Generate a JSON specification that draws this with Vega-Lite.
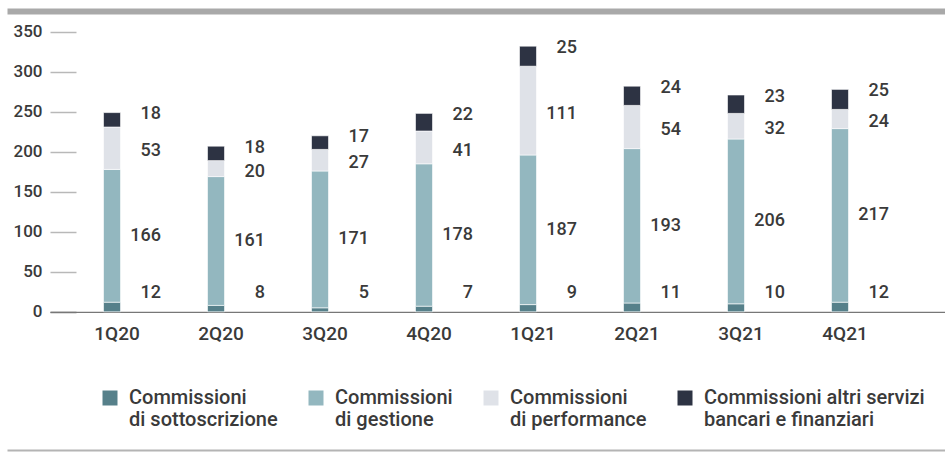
{
  "$schema": "https://vega.github.io/schema/vega-lite/v6.json",
  "autosize": "none",
  "width": 895,
  "height": 439.2,
  "padding": {"left": 50, "top": 11, "right": 0, "bottom": 2.8},
  "background": "white",
  "config": {
    "view": {"stroke": null},
    "font": "Roboto"
  },
  "data": {
    "values": [
      {"q": "1Q20", "cat": "Commissioni di sottoscrizione", "value": 12},
      {"q": "1Q20", "cat": "Commissioni di gestione", "value": 166},
      {"q": "1Q20", "cat": "Commissioni di performance", "value": 53},
      {"q": "1Q20", "cat": "Commissioni altri servizi bancari e finanziari", "value": 18},
      {"q": "2Q20", "cat": "Commissioni di sottoscrizione", "value": 8},
      {"q": "2Q20", "cat": "Commissioni di gestione", "value": 161},
      {"q": "2Q20", "cat": "Commissioni di performance", "value": 20},
      {"q": "2Q20", "cat": "Commissioni altri servizi bancari e finanziari", "value": 18},
      {"q": "3Q20", "cat": "Commissioni di sottoscrizione", "value": 5},
      {"q": "3Q20", "cat": "Commissioni di gestione", "value": 171},
      {"q": "3Q20", "cat": "Commissioni di performance", "value": 27},
      {"q": "3Q20", "cat": "Commissioni altri servizi bancari e finanziari", "value": 17},
      {"q": "4Q20", "cat": "Commissioni di sottoscrizione", "value": 7},
      {"q": "4Q20", "cat": "Commissioni di gestione", "value": 178},
      {"q": "4Q20", "cat": "Commissioni di performance", "value": 41},
      {"q": "4Q20", "cat": "Commissioni altri servizi bancari e finanziari", "value": 22},
      {"q": "1Q21", "cat": "Commissioni di sottoscrizione", "value": 9},
      {"q": "1Q21", "cat": "Commissioni di gestione", "value": 187},
      {"q": "1Q21", "cat": "Commissioni di performance", "value": 111},
      {"q": "1Q21", "cat": "Commissioni altri servizi bancari e finanziari", "value": 25},
      {"q": "2Q21", "cat": "Commissioni di sottoscrizione", "value": 11},
      {"q": "2Q21", "cat": "Commissioni di gestione", "value": 193},
      {"q": "2Q21", "cat": "Commissioni di performance", "value": 54},
      {"q": "2Q21", "cat": "Commissioni altri servizi bancari e finanziari", "value": 24},
      {"q": "3Q21", "cat": "Commissioni di sottoscrizione", "value": 10},
      {"q": "3Q21", "cat": "Commissioni di gestione", "value": 206},
      {"q": "3Q21", "cat": "Commissioni di performance", "value": 32},
      {"q": "3Q21", "cat": "Commissioni altri servizi bancari e finanziari", "value": 23},
      {"q": "4Q21", "cat": "Commissioni di sottoscrizione", "value": 12},
      {"q": "4Q21", "cat": "Commissioni di gestione", "value": 217},
      {"q": "4Q21", "cat": "Commissioni di performance", "value": 24},
      {"q": "4Q21", "cat": "Commissioni altri servizi bancari e finanziari", "value": 25}
    ]
  },
  "transform": [
    {"calculate": "indexof(['Commissioni di sottoscrizione','Commissioni di gestione','Commissioni di performance','Commissioni altri servizi bancari e finanziari'], datum.cat)", "as": "ord"},
    {"stack": "value", "groupby": ["q"], "sort": [{"field": "ord", "order": "ascending"}], "as": ["v0", "v1"]},
    {"calculate": "datum.ord === 0 ? 23 : datum.ord === 3 ? datum.v1 - 2 : datum.ord === 2 ? (datum.v0 + datum.v1) / 2 - 4 : (datum.v0 + datum.v1) / 2", "as": "mid"}
  ],
  "encoding": {
    "x": {
      "field": "q",
      "type": "nominal",
      "sort": null,
      "scale": {"paddingInner": 0, "paddingOuter": 0.303, "align": 0.159},
      "axis": {
        "title": null,
        "orient": "bottom",
        "offset": -138.4,
        "labelAngle": 0,
        "ticks": false,
        "domain": true,
        "domainColor": "#777777",
        "domainWidth": 1.2,
        "labelPadding": 13,
        "labelOffset": 5,
        "labelFontSize": 19,
        "labelFontWeight": 500,
        "labelColor": "#3a3a3a",
        "labelFont": "Roboto"
      }
    }
  },
  "layer": [
    {
      "mark": {"type": "bar", "width": 17, "stroke": "white", "strokeWidth": 0.6},
      "encoding": {
        "y": {
          "field": "v1",
          "type": "quantitative",
          "scale": {"domain": [-173, 376], "nice": false, "zero": false},
          "axis": {
            "title": null,
            "orient": "left",
            "offset": -26,
            "values": [0, 50, 100, 150, 200, 250, 300, 350],
            "tickSize": 26,
            "tickWidth": 1.5,
            "tickColor": {"condition": {"test": "datum.value === 0", "value": "#777777"}, "value": "#b8b8b8"},
            "domain": false,
            "grid": false,
            "labelPadding": 8,
            "labelFontSize": 17,
            "labelFontWeight": 500,
            "labelColor": "#3a3a3a",
            "labelFont": "Roboto"
          }
        },
        "y2": {"field": "v0"},
        "color": {
          "field": "cat",
          "type": "nominal",
          "scale": {
            "domain": ["Commissioni di sottoscrizione", "Commissioni di gestione", "Commissioni di performance", "Commissioni altri servizi bancari e finanziari"],
            "range": ["#56808a", "#93b7bf", "#dfe2e8", "#2d3343"]
          },
          "legend": {
            "title": null,
            "orient": "none",
            "legendX": 50,
            "legendY": 377,
            "direction": "horizontal",
            "padding": 0,
            "symbolType": "square",
            "symbolSize": 225,
            "symbolStrokeWidth": 0,
            "labelOffset": 9,
            "columnPadding": 28,
            "labelFontSize": 20,
            "labelFontWeight": 500,
            "labelColor": "#3a3a3a",
            "labelFont": "Roboto",
            "labelLimit": 400,
            "labelBaseline": "middle",
            "labelExpr": "datum.label === 'Commissioni altri servizi bancari e finanziari' ? ['Commissioni altri servizi', 'bancari e finanziari'] : ['Commissioni', slice(datum.label, 12)]"
          }
        }
      }
    },
    {
      "mark": {"type": "text", "align": "right", "baseline": "middle", "dx": 49, "fontSize": 18, "fontWeight": 500, "font": "Roboto", "color": "#3a3a3a"},
      "encoding": {
        "y": {
          "field": "mid",
          "type": "quantitative",
          "scale": {"domain": [-173, 376], "nice": false, "zero": false},
          "axis": {
            "title": null,
            "orient": "right",
            "offset": -938,
            "values": [376, -173],
            "tickSize": 938,
            "tickWidth": {"condition": {"test": "datum.value > 0", "value": 6}, "value": 2},
            "tickColor": {"condition": {"test": "datum.value > 0", "value": "#a9a9a9"}, "value": "#b4b4b4"},
            "labels": false,
            "domain": false,
            "grid": false
          }
        },
        "text": {"field": "value", "type": "quantitative"}
      }
    }
  ],
  "resolve": {"axis": {"y": "independent"}}
}
